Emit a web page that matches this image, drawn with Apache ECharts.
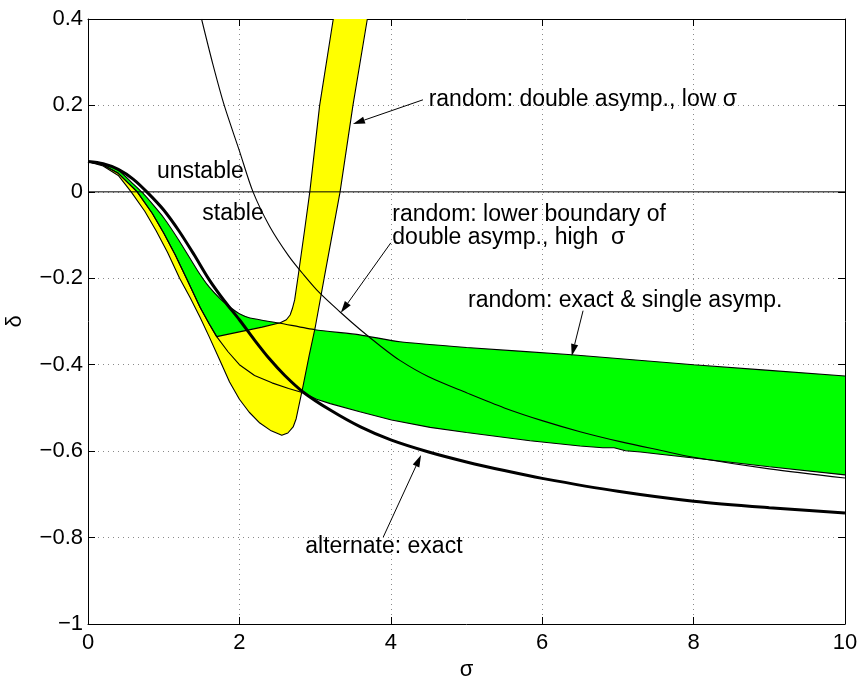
<!DOCTYPE html>
<html>
<head>
<meta charset="utf-8">
<script src="https://cdn.jsdelivr.net/npm/echarts@6/dist/echarts.min.js"></script>
<style>
  html, body { margin: 0; padding: 0; background: #fff; }
  #chart { width: 861px; height: 676px; }
</style>
</head>
<body>
<div id="chart"></div>
<script>
// Stability boundaries delta(sigma) for the alternate and random cases.

// alternate: exact
const altSigma = [0, 0.2, 0.4, 0.6, 0.8, 1.0, 1.2, 1.4, 1.6, 1.8, 2.0, 2.2, 2.4, 2.6, 2.84, 3.2, 3.6, 4.0, 4.5, 5, 5.5, 6, 7, 8, 9, 10];
const altDelta = [0.07, 0.065, 0.052, 0.029, -0.004, -0.042, -0.09, -0.145, -0.203, -0.252, -0.296, -0.343, -0.387, -0.425, -0.463, -0.505, -0.544, -0.574, -0.602, -0.625, -0.645, -0.663, -0.693, -0.716, -0.731, -0.743];

// random: exact & single asymp. (upper edge of the band)
const bandUpSigma = [0, 0.2, 0.4, 0.6, 0.72, 0.85, 1.0, 1.2, 1.45, 1.6, 1.75, 1.9, 2.0, 2.14, 2.54, 3.0, 3.59, 4.12, 5, 6.39, 8, 10];
const bandUpDelta = [0.07, 0.065, 0.05, 0.018, -0.002, -0.028, -0.06, -0.112, -0.183, -0.22, -0.248, -0.27, -0.282, -0.292, -0.304, -0.319, -0.331, -0.347, -0.36, -0.377, -0.4, -0.426];

// shared left branch (inner edge of the low-sigma band, lower edge of the exact band)
const branchSigma = [0, 0.2, 0.4, 0.65, 0.85, 1.0, 1.15, 1.3, 1.48, 1.6, 1.7];
const branchDelta = [0.07, 0.062, 0.043, 0, -0.05, -0.095, -0.145, -0.2, -0.267, -0.305, -0.335];

// random: exact & single asymp. (lower edge, after the branch point)
const bandLowSigma = [1.85, 2.0, 2.2, 2.43, 2.65, 2.84, 3.02, 3.2, 3.59, 4.01, 4.52, 5.0, 5.84, 6.5, 6.8, 6.95, 7.1, 7.3, 7.5, 8, 9, 10];
const bandLowDelta = [-0.37, -0.4, -0.425, -0.442, -0.455, -0.465, -0.48, -0.49, -0.509, -0.528, -0.545, -0.557, -0.576, -0.588, -0.592, -0.592, -0.599, -0.602, -0.606, -0.616, -0.636, -0.655];

// random: double asymp., low sigma (inner edge after the branch point)
const lowInSigma = [2.0, 2.3, 2.54, 2.62, 2.67, 2.7, 2.73, 2.78, 2.86, 2.93, 3.06, 3.24];
const lowInDelta = [-0.324, -0.313, -0.303, -0.296, -0.285, -0.27, -0.25, -0.19, -0.09, 0, 0.2, 0.4];

// random: double asymp., low sigma (outer edge)
const lowOutSigma = [0, 0.2, 0.4, 0.57, 0.75, 0.9, 1.05, 1.21, 1.35, 1.48, 1.6, 1.74, 1.87, 2.0, 2.13, 2.27, 2.42, 2.56, 2.64, 2.71, 2.75, 2.78, 2.84, 2.92, 3.0, 3.13, 3.33, 3.5, 3.69];
const lowOutDelta = [0.07, 0.06, 0.038, 0, -0.045, -0.09, -0.14, -0.2, -0.245, -0.29, -0.335, -0.389, -0.44, -0.48, -0.51, -0.535, -0.553, -0.563, -0.558, -0.544, -0.525, -0.5, -0.45, -0.38, -0.315, -0.19, 0, 0.2, 0.4];

// random: lower boundary of double asymp., high sigma
const highSigma = [1.5, 1.65, 1.8, 2.0, 2.18, 2.4, 2.65, 2.85, 3.06, 3.33, 3.59, 3.85, 4.12, 4.5, 5.0, 5.5, 6.01, 6.5, 7.03, 7.56, 8, 9, 10];
const highDelta = [0.4, 0.295, 0.2, 0.095, 0, -0.08, -0.148, -0.192, -0.234, -0.278, -0.318, -0.355, -0.39, -0.428, -0.465, -0.5, -0.53, -0.555, -0.578, -0.598, -0.614, -0.641, -0.662];

// axis ranges and tick spacing
const xRange = [0, 10], xStep = 2;
const yRange = [-1, 0.4], yStep = 0.2;

// annotation texts
const labelTexts = ['unstable', 'stable', 'random: double asymp., low \u03c3',
  'random: lower boundary of', 'double asymp., high  \u03c3',
  'random: exact & single asymp.', 'alternate: exact'];

// where the texts and arrows sit, in (sigma, delta) units
const labelAnchors = [[0.91, 0.046], [1.51, -0.051], [4.5, 0.213], [4.02, -0.053], [4.02, -0.106], [5.02, -0.252], [2.87, -0.822]];
const arrowLayout = [
  [[4.425, 0.213], [3.50, 0.157]],
  [[4.00, -0.118], [3.34, -0.28]],
  [[6.54, -0.275], [6.39, -0.38]],
  [[3.90, -0.799], [4.40, -0.609]]
];

const zip = (xs, ys) => xs.map((x, i) => [x, ys[i]]);
const alt = zip(altSigma, altDelta);
const bandUp = zip(bandUpSigma, bandUpDelta);
const branch = zip(branchSigma, branchDelta);
const bandLow = branch.concat(zip(bandLowSigma, bandLowDelta));
const lowInner = branch.concat(zip(lowInSigma, lowInDelta));
const lowOuter = zip(lowOutSigma, lowOutDelta);
const high = zip(highSigma, highDelta);

const FONT = '"Liberation Sans", Arial, Helvetica, sans-serif';

function fillSeries(points, color, z) {
  return {
    type: 'custom', z: z, silent: true, animation: false,
    data: [[0, 0]], encode: { x: 0, y: 1 },
    renderItem: (params, api) => ({
      type: 'polygon',
      shape: { points: points.map(p => api.coord(p)) },
      style: { fill: color, stroke: null }
    })
  };
}

function curveSeries(points, width, z, smooth) {
  return {
    type: 'line', data: points, z: z, silent: true, animation: false,
    showSymbol: false, symbol: 'none', clip: true, smooth: smooth || false,
    lineStyle: { color: '#000', width: width }
  };
}

const tickLabel = v => {
  const r = Math.round(v * 10) / 10;
  return String(r).replace('-', '\u2212');
};

const axisBase = {
  type: 'value',
  axisLine: { show: true, onZero: false, lineStyle: { color: '#000', width: 1 } },
  axisTick: { show: true, inside: true, length: 7, lineStyle: { color: '#000', width: 1 } },
  splitLine: { show: false }
};

const chart = echarts.init(document.getElementById('chart'), null, { renderer: 'canvas' });

chart.setOption({
  animation: false,
  backgroundColor: '#fff',
  grid: { left: 88, right: 16, top: 19, bottom: 52, containLabel: false, outerBoundsMode: 'none' },
  xAxis: [
    Object.assign({}, axisBase, {
      min: xRange[0], max: xRange[1], interval: xStep, position: 'bottom',
      name: '\u03c3', nameLocation: 'middle', nameGap: 25,
      nameTextStyle: { fontSize: 22, color: '#000', fontFamily: FONT },
      axisLabel: { fontSize: 22, color: '#000', fontFamily: FONT, margin: 8, formatter: tickLabel },
      splitLine: { show: true, lineStyle: { color: '#8a8a8a', width: 1, type: [1, 4] } }
    }),
    Object.assign({}, axisBase, {
      min: xRange[0], max: xRange[1], interval: xStep, position: 'top',
      axisLabel: { show: false }
    })
  ],
  yAxis: [
    Object.assign({}, axisBase, {
      min: yRange[0], max: yRange[1], interval: yStep, position: 'left',
      name: '\u03b4', nameLocation: 'middle', nameGap: 62, nameRotate: 90,
      nameTextStyle: { fontSize: 22, color: '#000', fontFamily: FONT },
      axisLabel: { fontSize: 22, color: '#000', fontFamily: FONT, margin: 5, formatter: tickLabel },
      splitLine: { show: true, lineStyle: { color: '#8a8a8a', width: 1, type: [1, 4] } }
    }),
    Object.assign({}, axisBase, {
      min: yRange[0], max: yRange[1], interval: yStep, position: 'right',
      axisLabel: { show: false }
    })
  ],
  series: [
    // exact & single asymp. band
    fillSeries(bandUp.concat(bandLow.slice().reverse()), '#00ff00', 1),
    // double asymp., low sigma band
    fillSeries(lowOuter.concat(lowInner.slice().reverse()), '#ffff00', 2),
    // stability line delta = 0
    curveSeries([[xRange[0], 0], [xRange[1], 0]], 1, 3),
    curveSeries(bandUp, 1.1, 4, 0.2),
    curveSeries(bandLow, 1.1, 4),
    curveSeries(lowInner, 1.1, 4),
    curveSeries(lowOuter, 1.1, 4),
    curveSeries(high, 1.1, 4, 0.3),
    curveSeries(alt, 3, 5, 0.3),
    // arrows
    {
      type: 'custom', z: 6, silent: true, animation: false,
      data: arrowLayout.map((a, i) => [a[1][0], a[1][1], i]),
      encode: { x: 0, y: 1 },
      renderItem: (params, api) => {
        const a = arrowLayout[api.value(2)];
        const t = api.coord(a[0]);
        const h = api.coord(a[1]);
        const ang = Math.atan2(h[1] - t[1], h[0] - t[0]);
        const len = 12, half = 3.6;
        const bx = h[0] - len * Math.cos(ang), by = h[1] - len * Math.sin(ang);
        const nx = -Math.sin(ang) * half, ny = Math.cos(ang) * half;
        return {
          type: 'group',
          children: [
            { type: 'line', shape: { x1: t[0], y1: t[1], x2: bx, y2: by }, style: { stroke: '#000', lineWidth: 1 } },
            { type: 'polygon', shape: { points: [h, [bx + nx, by + ny], [bx - nx, by - ny]] }, style: { fill: '#000' } }
          ]
        };
      }
    },
    // annotation texts
    {
      type: 'custom', z: 7, silent: true, animation: false,
      data: labelAnchors.map((p, i) => [p[0], p[1], i]),
      encode: { x: 0, y: 1 },
      renderItem: (params, api) => {
        const p = api.coord([api.value(0), api.value(1)]);
        return {
          type: 'text',
          x: p[0], y: p[1],
          style: {
            text: labelTexts[api.value(2)],
            fill: '#000', fontSize: 23, fontFamily: FONT,
            align: 'left', verticalAlign: 'middle'
          }
        };
      }
    }
  ]
});
</script>
</body>
</html>
